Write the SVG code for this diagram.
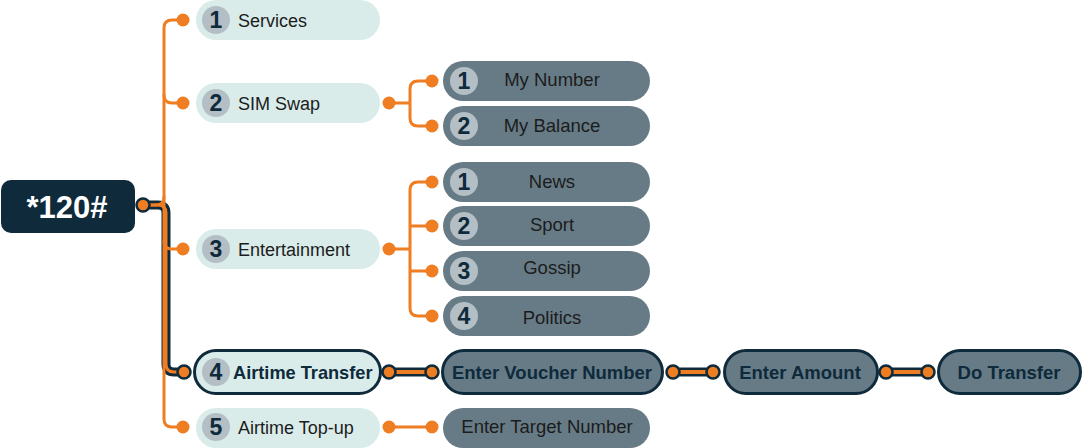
<svg xmlns="http://www.w3.org/2000/svg" width="1082" height="448" viewBox="0 0 1082 448">
<style>
.l1{fill:#d9ecea}
.l2{fill:#677b86}
.hl{stroke:#0e2a3b;stroke-width:3}
.num{fill:#b3bec5}
.nt{font-family:"Liberation Sans",Arial,sans-serif;font-weight:bold;font-size:23px;fill:#0e2a3b;text-anchor:middle}
.t1{font-family:"Liberation Sans",Arial,sans-serif;font-size:18px;fill:#1c1c1c}
.t2{font-family:"Liberation Sans",Arial,sans-serif;font-size:18.5px;fill:#1c1c1c;text-anchor:middle}
.tb{font-family:"Liberation Sans",Arial,sans-serif;font-size:18.2px;font-weight:bold;fill:#0e2a3b}
.tbc{font-family:"Liberation Sans",Arial,sans-serif;font-size:18.5px;font-weight:bold;fill:#0e2a3b;text-anchor:middle}
.or{fill:none;stroke:#ef7d22;stroke-width:3;stroke-linecap:round}
.or4{fill:none;stroke:#ef7d22;stroke-width:4;stroke-linecap:round}
.dk{fill:none;stroke:#0e2a3b;stroke-width:9;stroke-linecap:round;stroke-linejoin:round}
.dot{fill:#ef7d22}
.dotb{fill:#ef7d22;stroke:#0e2a3b;stroke-width:2.5}
</style>
<g id="connectors">
  <path class="dk" d="M143,205 H158 Q166,205 166,213 V364 Q166,372 174,372 H185"/>
  <path class="dk" d="M388,372 H432"/>
  <path class="dk" d="M673,372 H713"/>
  <path class="dk" d="M886,372 H928"/>
  <path class="or" d="M185,20 H172 Q164,20 164,28 V419 Q164,427 172,427 H185"/>
  <path class="or" d="M164,95 Q164,103 172,103 H185"/>
  <path class="or" d="M164,241 Q164,249 172,249 H185"/>
  <path class="or" d="M143,205 H156 Q164,205 164,197"/>
  <path class="or" d="M143,205 H158 Q166,205 166,213 V364 Q166,372 174,372 H185"/>
  <path class="or" d="M388,103 H410 M432,81 H418 Q410,81 410,89 V118 Q410,126 418,126 H432"/>
  <path class="or" d="M388,249 H410 M432,182 H418 Q410,182 410,190 V308 Q410,316 418,316 H432 M410,226 H432 M410,271 H432"/>
  <path class="or4" d="M388,372 H432"/>
  <path class="or4" d="M673,372 H713"/>
  <path class="or4" d="M886,372 H928"/>
  <path class="or" d="M388,427 H432"/>
  <circle class="dot" cx="183" cy="20" r="6.5"/>
  <circle class="dot" cx="183" cy="103" r="6.5"/>
  <circle class="dot" cx="183" cy="249" r="6.5"/>
  <circle class="dot" cx="183" cy="427" r="6.5"/>
  <circle class="dot" cx="389" cy="103" r="6.5"/>
  <circle class="dot" cx="432" cy="81" r="6.5"/>
  <circle class="dot" cx="432" cy="126" r="6.5"/>
  <circle class="dot" cx="389" cy="249" r="6.5"/>
  <circle class="dot" cx="432" cy="182" r="6.5"/>
  <circle class="dot" cx="432" cy="226" r="6.5"/>
  <circle class="dot" cx="432" cy="271" r="6.5"/>
  <circle class="dot" cx="432" cy="316" r="6.5"/>
  <circle class="dot" cx="389" cy="427" r="6.5"/>
  <circle class="dot" cx="432" cy="427" r="6.5"/>
  <circle class="dotb" cx="143" cy="205" r="6.5"/>
  <circle class="dotb" cx="184" cy="372" r="6.5"/>
  <circle class="dotb" cx="389" cy="372" r="6.5"/>
  <circle class="dotb" cx="432" cy="372" r="6.5"/>
  <circle class="dotb" cx="673" cy="372" r="6.5"/>
  <circle class="dotb" cx="713" cy="372" r="6.5"/>
  <circle class="dotb" cx="886" cy="372" r="6.5"/>
  <circle class="dotb" cx="928" cy="372" r="6.5"/>
</g>
<g id="root">
  <rect x="1" y="180" width="134" height="53" rx="10" fill="#0e2a3b"/>
  <text x="67" y="218" font-family="Liberation Sans,Arial,sans-serif" font-size="31" font-weight="bold" fill="#ffffff" text-anchor="middle">*120#</text>
</g>
<g id="services">
  <rect class="l1" x="196" y="0" width="184" height="40" rx="20"/>
  <circle class="num" cx="216" cy="20" r="14"/>
  <text class="nt" x="216" y="28">1</text>
  <text class="t1" x="238" y="26.5">Services</text>
</g>
<g id="simswap">
  <rect class="l1" x="196" y="83" width="184" height="40" rx="20"/>
  <circle class="num" cx="216" cy="103" r="14"/>
  <text class="nt" x="216" y="111">2</text>
  <text class="t1" x="238" y="109.5">SIM Swap</text>
</g>
<g id="entertainment">
  <rect class="l1" x="196" y="229" width="184" height="40" rx="20"/>
  <circle class="num" cx="216" cy="249" r="14"/>
  <text class="nt" x="216" y="257">3</text>
  <text class="t1" x="238" y="255.5">Entertainment</text>
</g>
<g id="airtime-transfer">
  <rect class="l1 hl" x="194.5" y="350.5" width="186" height="43" rx="21.5"/>
  <circle class="num" cx="216" cy="372" r="14"/>
  <text class="nt" x="216" y="380">4</text>
  <text class="tb" x="233" y="378.5">Airtime Transfer</text>
</g>
<g id="airtime-topup">
  <rect class="l1" x="196" y="408" width="184" height="40" rx="20"/>
  <circle class="num" cx="216" cy="427" r="14"/>
  <text class="nt" x="216" y="435">5</text>
  <text class="t1" x="238" y="433.5">Airtime Top-up</text>
</g>
<g id="my-number">
  <rect class="l2" x="443" y="61" width="207" height="40" rx="20"/>
  <circle class="num" cx="464" cy="81" r="14"/>
  <text class="nt" x="464" y="89">1</text>
  <text class="t2" x="552" y="86">My Number</text>
</g>
<g id="my-balance">
  <rect class="l2" x="443" y="106" width="207" height="40" rx="20"/>
  <circle class="num" cx="464" cy="126" r="14"/>
  <text class="nt" x="464" y="134">2</text>
  <text class="t2" x="552" y="132">My Balance</text>
</g>
<g id="news">
  <rect class="l2" x="443" y="162" width="207" height="40" rx="20"/>
  <circle class="num" cx="464" cy="182" r="14"/>
  <text class="nt" x="464" y="190">1</text>
  <text class="t2" x="552" y="188">News</text>
</g>
<g id="sport">
  <rect class="l2" x="443" y="206" width="207" height="40" rx="20"/>
  <circle class="num" cx="464" cy="226" r="14"/>
  <text class="nt" x="464" y="234">2</text>
  <text class="t2" x="552" y="231">Sport</text>
</g>
<g id="gossip">
  <rect class="l2" x="443" y="251" width="207" height="40" rx="20"/>
  <circle class="num" cx="464" cy="271" r="14"/>
  <text class="nt" x="464" y="279">3</text>
  <text class="t2" x="552" y="274">Gossip</text>
</g>
<g id="politics">
  <rect class="l2" x="443" y="296" width="207" height="40" rx="20"/>
  <circle class="num" cx="464" cy="316" r="14"/>
  <text class="nt" x="464" y="324">4</text>
  <text class="t2" x="552" y="324">Politics</text>
</g>
<g id="enter-voucher">
  <rect class="l2 hl" x="442.5" y="350.5" width="220" height="43" rx="21.5"/>
  <text class="tbc" x="552" y="378.5">Enter Voucher Number</text>
</g>
<g id="enter-amount">
  <rect class="l2 hl" x="724.5" y="350.5" width="153" height="43" rx="21.5"/>
  <text class="tbc" x="800" y="378.5">Enter Amount</text>
</g>
<g id="do-transfer">
  <rect class="l2 hl" x="938.5" y="350.5" width="142" height="43" rx="21.5"/>
  <text class="tbc" x="1009" y="378.5">Do Transfer</text>
</g>
<g id="enter-target">
  <rect class="l2" x="443" y="408" width="207" height="40" rx="20"/>
  <text class="t2" x="547" y="433">Enter Target Number</text>
</g>
</svg>
